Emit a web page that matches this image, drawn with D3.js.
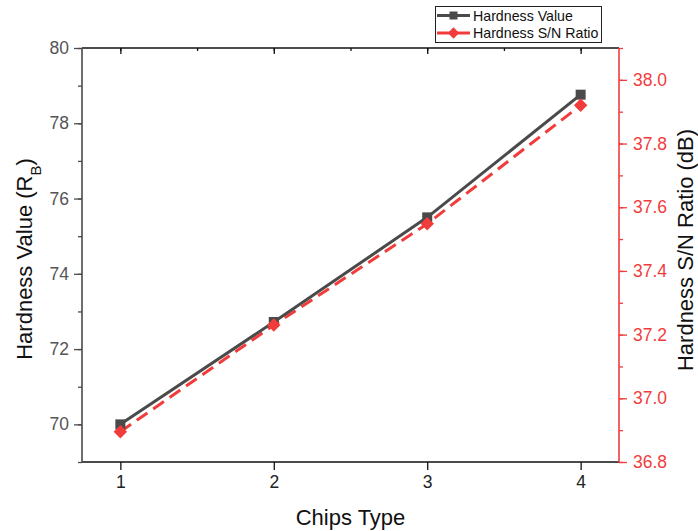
<!DOCTYPE html>
<html>
<head>
<meta charset="utf-8">
<script src="https://cdn.jsdelivr.net/npm/d3@7"></script>
<style>
  body { margin: 0; background: #fff; }
  svg { font-family: "Liberation Sans", Arial, sans-serif; }
</style>
</head>
<body>
<div id="chart"></div>
<script>
// chip types along the x axis
var chips = [1, 2, 3, 4];
// hardness (RB) and its S/N ratio (dB)
var hardness = [70.0, 72.72, 75.5, 78.76];
var snRatio = [36.895, 37.23, 37.548, 37.92];
var leftTicks = [70, 72, 74, 76, 78, 80];
var rightTicks = [36.8, 37.0, 37.2, 37.4, 37.6, 37.8, 38.0];

var W = 698, H = 531;
var L = 82, R = 619, T = 48, B = 462;
var red = "#f23c3c", dark = "#4a4a4a";

var svg = d3.select("#chart").append("svg")
	.attr("width", W).attr("height", H);

var x = d3.scaleLinear().domain([0.75, 4.25]).range([L, R]);
var yL = d3.scaleLinear().domain([69, 80]).range([B, T]);
var yR = d3.scaleLinear().domain([36.8, 38.1]).range([B, T]);

/* ------- axes ------- */
function styleAxis(g, col, textCol) {
	g.select(".domain").remove();
	g.selectAll("line").attr("stroke", col).attr("stroke-width", 1.3);
	g.selectAll("text").attr("fill", textCol).style("font-size", "17.5px");
}

// minor ticks first so the major ones sit on top
svg.append("g").attr("transform", "translate(" + L + ",0)")
	.call(d3.axisLeft(yL).tickValues(d3.range(69, 80.1, 1)).tickSize(4).tickFormat(""))
	.call(styleAxis, dark, dark);
svg.append("g").attr("transform", "translate(" + L + ",0)")
	.call(d3.axisLeft(yL).tickValues(leftTicks).tickSize(8).tickPadding(5).tickFormat(d3.format("d")))
	.call(styleAxis, dark, "#555");

svg.append("g").attr("transform", "translate(" + R + ",0)")
	.call(d3.axisRight(yR).tickValues(d3.range(36.8, 38.15, 0.1)).tickSize(4).tickFormat(""))
	.call(styleAxis, red, red);
svg.append("g").attr("transform", "translate(" + R + ",0)")
	.call(d3.axisRight(yR).tickValues(rightTicks).tickSize(8).tickPadding(6).tickFormat(d3.format(".1f")))
	.call(styleAxis, red, red);

svg.append("g").attr("transform", "translate(0," + B + ")")
	.call(d3.axisBottom(x).tickValues(chips).tickSize(8).tickPadding(6).tickFormat(d3.format("d")))
	.call(styleAxis, "#111", "#222");

// mirrored top axis, ticks pointing inward
svg.append("g").attr("transform", "translate(0," + T + ")")
	.call(d3.axisBottom(x).tickValues(d3.range(1, 4.1, 0.5)).tickSize(3).tickFormat(""))
	.call(styleAxis, "#111", "#111");
svg.append("g").attr("transform", "translate(0," + T + ")")
	.call(d3.axisBottom(x).tickValues(chips).tickSize(6).tickFormat(""))
	.call(styleAxis, "#111", "#111");

// frame
svg.append("line").attr("x1", L).attr("x2", R).attr("y1", B).attr("y2", B).attr("stroke", "#111").attr("stroke-width", 1.6);
svg.append("line").attr("x1", L).attr("x2", R).attr("y1", T).attr("y2", T).attr("stroke", "#111").attr("stroke-width", 1.6);
svg.append("line").attr("x1", L).attr("x2", L).attr("y1", T).attr("y2", B).attr("stroke", dark).attr("stroke-width", 1.6);
svg.append("line").attr("x1", R).attr("x2", R).attr("y1", T).attr("y2", B).attr("stroke", red).attr("stroke-width", 1.6);

/* ------- series ------- */
var hData = chips.map(function(c, i) { return [c, hardness[i]]; });
var sData = chips.map(function(c, i) { return [c, snRatio[i]]; });

svg.append("path").datum(sData)
	.attr("fill", "none").attr("stroke", red).attr("stroke-width", 3)
	.attr("stroke-dasharray", "13,7")
	.attr("d", d3.line().x(function(d) { return x(d[0]); }).y(function(d) { return yR(d[1]); }));

svg.append("path").datum(hData)
	.attr("fill", "none").attr("stroke", dark).attr("stroke-width", 3)
	.attr("d", d3.line().x(function(d) { return x(d[0]); }).y(function(d) { return yL(d[1]); }));

// the diamond is a square turned 45 degrees (d3's own diamond is too narrow)
var square = d3.symbol().type(d3.symbolSquare).size(100);
var diamond = d3.symbol().type(d3.symbolSquare).size(90);

svg.selectAll("path.sq").data(hData).enter().append("path")
	.attr("class", "sq").attr("d", square).attr("fill", dark)
	.attr("transform", function(d) { return "translate(" + x(d[0]) + "," + yL(d[1]) + ")"; });

svg.selectAll("path.dm").data(sData).enter().append("path")
	.attr("class", "dm").attr("d", diamond).attr("fill", red)
	.attr("transform", function(d) { return "translate(" + x(d[0]) + "," + yR(d[1]) + ") rotate(45)"; });

/* ------- titles ------- */
svg.append("text").attr("x", (L + R) / 2).attr("y", 525)
	.attr("text-anchor", "middle").style("font-size", "22px").attr("fill", "#111")
	.text("Chips Type");

var lt = svg.append("text").attr("transform", "translate(32," + ((T + B) / 2 + 4) + ") rotate(-90)")
	.attr("text-anchor", "middle").style("font-size", "22px").attr("fill", "#111");
lt.append("tspan").text("Hardness Value (R");
lt.append("tspan").attr("baseline-shift", "sub").style("font-size", "15px").text("B");
lt.append("tspan").text(")");

svg.append("text").attr("transform", "translate(693," + ((T + B) / 2 - 5) + ") rotate(-90)")
	.attr("text-anchor", "middle").style("font-size", "22px").attr("fill", "#111")
	.text("Hardness S/N Ratio (dB)");

/* ------- legend ------- */
var leg = svg.append("g");
leg.append("rect").attr("x", 435.5).attr("y", 6.5).attr("width", 166).attr("height", 36)
	.attr("fill", "#fff").attr("stroke", "#222").attr("stroke-width", 1);
var items = [["Hardness Value", dark, 0, 15.5], ["Hardness S/N Ratio", red, 45, 33]];
items.forEach(function(it) {
	leg.append("line").attr("x1", 437).attr("x2", 470).attr("y1", it[3]).attr("y2", it[3])
		.attr("stroke", it[1]).attr("stroke-width", 3);
	leg.append("path").attr("d", d3.symbol().type(d3.symbolSquare).size(64)).attr("fill", it[1])
		.attr("transform", "translate(453.5," + it[3] + ") rotate(" + it[2] + ")");
	leg.append("text").attr("x", 473).attr("y", it[3] + 5).style("font-size", "14.2px").attr("fill", "#111")
		.text(it[0]);
});
</script>
</body>
</html>
